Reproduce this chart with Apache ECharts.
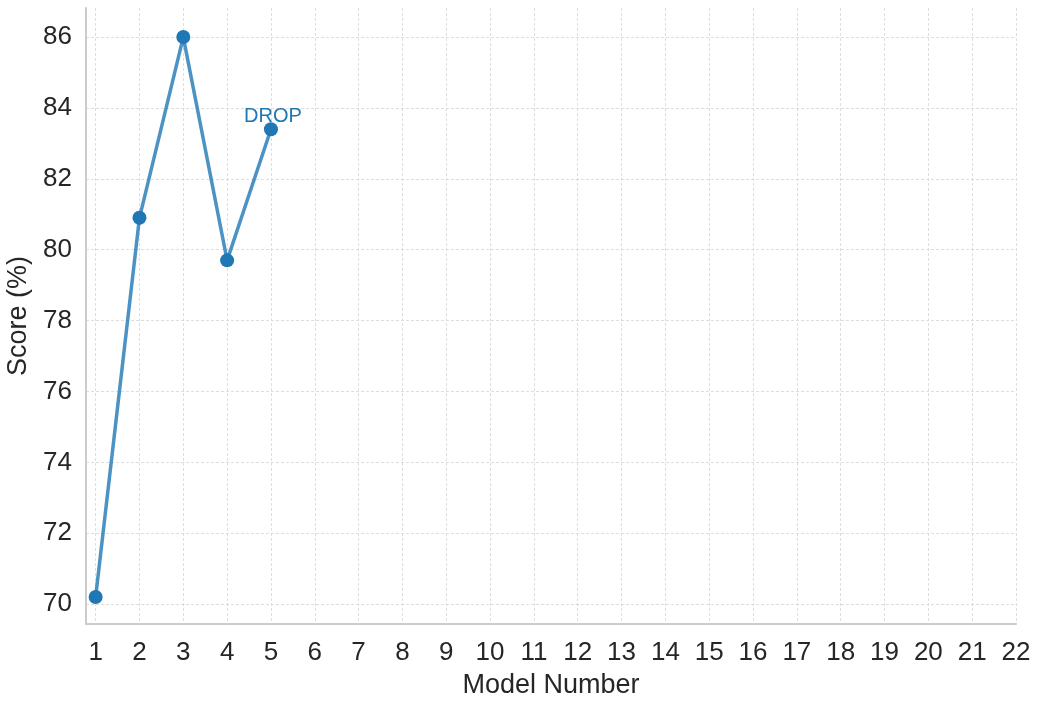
<!DOCTYPE html>
<html><head><meta charset="utf-8">
<script src="https://cdn.jsdelivr.net/npm/echarts@6/dist/echarts.min.js"></script>
<style>html,body{margin:0;padding:0;background:#fff}#c{width:1041px;height:706px}</style>
</head><body><div id="c"></div>
<script>
const modelNumbers = [1, 2, 3, 4, 5];
const scores = [70.2, 80.9, 86.0, 79.7, 83.4];
const pointLabels = ['', '', '', '', 'DROP'];
const xTicks = [1,2,3,4,5,6,7,8,9,10,11,12,13,14,15,16,17,18,19,20,21,22];
const yTicks = [70,72,74,76,78,80,82,84,86];

const chart = echarts.init(document.getElementById('c'), null, {renderer:'canvas'});
const font = 'Liberation Sans, Arial, sans-serif';
chart.setOption({
  animation: false,
  grid: {left: 86, right: 25, top: 8, bottom: 82, containLabel: false, outerBoundsMode: 'none'},
  xAxis: {
    type: 'value', min: 0.78, max: 22,
    name: 'Model Number', nameLocation: 'middle', nameGap: 48,
    nameTextStyle: {fontSize: 27, color: '#262626', fontFamily: font},
    axisLine: {show: true, lineStyle: {color: '#cccccc', width: 2}},
    axisTick: {show: false, customValues: xTicks},
    axisLabel: {customValues: xTicks, fontSize: 26, color: '#262626', fontFamily: font, margin: 16},
    splitLine: {show: true, lineStyle: {color: '#d6d6d6', width: 0.8, type: [3, 2]}}
  },
  yAxis: {
    type: 'value', min: 69.44, max: 86.82,
    name: 'Score (%)', nameLocation: 'middle', nameGap: 51,
    nameTextStyle: {fontSize: 27, color: '#262626', fontFamily: font},
    axisLine: {show: true, lineStyle: {color: '#cccccc', width: 2}},
    axisTick: {show: false, customValues: yTicks},
    axisLabel: {customValues: yTicks, fontSize: 26, color: '#262626', fontFamily: font, margin: 14},
    splitLine: {show: true, lineStyle: {color: '#d6d6d6', width: 0.8, type: [3, 2]}}
  },
  series: [{
    type: 'line',
    data: modelNumbers.map((m, i) => [m, scores[i]]),
    lineStyle: {color: 'rgba(31,119,180,0.8)', width: 3.5},
    itemStyle: {color: '#1f77b4', opacity: 1},
    symbol: 'circle', symbolSize: 14,
    label: {
      show: true, position: 'top', distance: -4, offset: [2, 0],
      formatter: p => pointLabels[p.dataIndex],
      fontSize: 20, color: '#1f77b4', fontFamily: font
    }
  }]
});
</script></body></html>
